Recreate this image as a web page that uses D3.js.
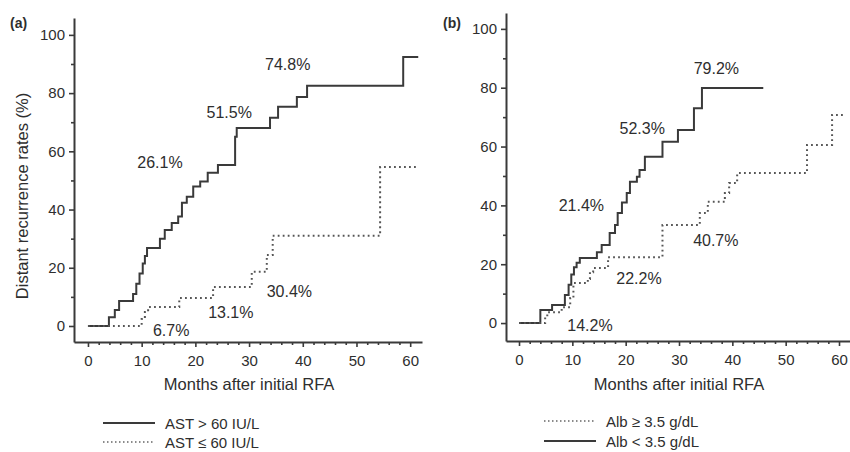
<!DOCTYPE html>
<html>
<head>
<meta charset="utf-8">
<script src="https://cdn.jsdelivr.net/npm/d3@7"></script>
<style>
  body { margin: 0; background: #fff; }
  svg text { font-family: "Liberation Sans", Arial, sans-serif; fill: #2e2e2e; }
</style>
</head>
<body>
<div id="viz"></div>
<script>
const width = 850;
const height = 452;
const ink = '#3a3a3a';

// panel (a): AST
const astHighMonths = [0, 3.9, 5.0, 5.8, 8.4, 9.0, 9.6, 10.2, 10.6, 11.0, 13.4, 14.3, 15.6, 16.8, 17.5, 18.4, 19.6, 20.9, 22.3, 24.2, 27.4, 27.7, 33.9, 35.4, 38.9, 40.8, 58.7, 61.5];
const astHighRates  = [0, 3, 5.5, 8.6, 11, 14.5, 18, 21.5, 24, 26.8, 30, 33, 35.4, 37.6, 42.3, 44.4, 47.9, 49.6, 52.6, 55.3, 65, 68, 71.5, 75.3, 78.7, 82.5, 92.4, 92.4];
const astLowMonths  = [0, 10.0, 10.6, 11.2, 17.0, 23.3, 30.5, 33.3, 34.4, 54.4, 61.5];
const astLowRates   = [0, 2.4, 4.8, 6.5, 9.6, 13.4, 18.6, 24.4, 31.0, 54.6, 54.6];

// panel (b): albumin
const albLowMonths  = [0, 4.0, 6.2, 8.6, 9.3, 9.8, 10.3, 10.8, 11.4, 14.6, 15.5, 17.0, 18.0, 18.5, 19.3, 20.2, 20.8, 22.1, 22.6, 23.6, 26.9, 29.8, 32.8, 34.3, 45.8];
const albLowRates   = [0, 4.4, 6.1, 9.5, 13, 16.5, 19, 20.5, 22.1, 24.1, 26.5, 30.6, 33.3, 37.4, 41.0, 44.2, 48, 49.7, 52, 56.5, 61.6, 65.6, 73, 79.9, 79.9];
const albHighMonths = [0, 4.9, 5.3, 8.0, 9.6, 10.2, 12.9, 13.3, 13.9, 16.7, 26.9, 33.9, 35.4, 38.6, 39.4, 40.9, 54.0, 58.7, 60.8];
const albHighRates  = [0, 2, 3.7, 5.4, 8.5, 13.6, 15, 17.3, 18.7, 22.4, 33.3, 37.4, 41.2, 44.2, 47.6, 51, 60.5, 70.7, 70.7];

// annotations: text, month, rate
const astNotes = [['26.1%', 13.4, 56], ['51.5%', 26.3, 73.5], ['74.8%', 37.2, 89.7],
                  ['6.7%', 15.5, -1.4], ['13.1%', 26.6, 4.5], ['30.4%', 37.5, 11.7]];
const albNotes = [['79.2%', 37.0, 86.7], ['52.3%', 23.1, 66.3], ['21.4%', 11.7, 40.1],
                  ['14.2%', 13.3, -0.7], ['22.2%', 22.5, 15.3], ['40.7%', 36.9, 27.9]];

const xTicks = [0, 10, 20, 30, 40, 50, 60];
const yTicks = [0, 20, 40, 60, 80, 100];

const svg = d3.select('#viz')
  .append('svg')
    .attr('width', width)
    .attr('height', height)
    .attr('viewBox', [0, 0, width, height]);

const zip = (m, r) => m.map((d, i) => [d, r[i]]);

function drawPanel(cfg) {
  const x = d3.scaleLinear().domain(cfg.xDomain).range(cfg.xRange);
  const y = d3.scaleLinear().domain(cfg.yDomain).range(cfg.yRange);
  const g = svg.append('g');

  // axes: major + minor ticks
  g.append('g')
    .attr('transform', `translate(0, ${cfg.yRange[0]})`)
    .call(d3.axisBottom(x).tickValues(xTicks).tickSize(5).tickSizeOuter(0).tickPadding(8));
  g.append('g')
    .attr('transform', `translate(0, ${cfg.yRange[0]})`)
    .call(d3.axisBottom(x).tickValues(d3.range(2, 62, 2).filter(v => v % 10)).tickSize(3).tickFormat(''))
    .call(a => a.select('.domain').remove());
  g.append('g')
    .attr('transform', `translate(${cfg.xRange[0]}, 0)`)
    .call(d3.axisLeft(y).tickValues(yTicks).tickSize(5).tickSizeOuter(0).tickPadding(4));
  g.append('g')
    .attr('transform', `translate(${cfg.xRange[0]}, 0)`)
    .call(d3.axisLeft(y).tickValues([10, 30, 50, 70, 90]).tickSize(3).tickFormat(''))
    .call(a => a.select('.domain').remove());

  g.selectAll('.domain, .tick line').attr('stroke', ink).attr('stroke-width', 1.6);
  g.selectAll('.domain').attr('stroke-width', 2);
  g.selectAll('.tick text').attr('font-size', 15).attr('fill', '#2e2e2e');

  const line = d3.line()
    .x(d => x(d[0]))
    .y(d => y(d[1]))
    .curve(d3.curveStepAfter);

  g.append('path')
    .attr('d', line(cfg.solid))
    .attr('fill', 'none')
    .attr('stroke', ink)
    .attr('stroke-width', 2);

  g.append('path')
    .attr('d', line(cfg.dotted))
    .attr('fill', 'none')
    .attr('stroke', '#555')
    .attr('stroke-width', 2)
    .attr('stroke-dasharray', '1.8,3.2');

  g.selectAll('.note')
    .data(cfg.notes)
    .join('text')
    .attr('class', 'note')
    .attr('x', d => x(d[1]))
    .attr('y', d => y(d[2]))
    .attr('text-anchor', 'middle')
    .attr('dominant-baseline', 'central')
    .attr('font-size', 16)
    .text(d => d[0]);

  g.append('text')
    .attr('x', cfg.tagX)
    .attr('y', 23)
    .attr('dominant-baseline', 'central')
    .attr('font-size', 14)
    .attr('font-weight', 'bold')
    .text(cfg.tag);

  g.append('text')
    .attr('x', (x(0) + x(60)) / 2)
    .attr('y', 384)
    .attr('text-anchor', 'middle')
    .attr('dominant-baseline', 'central')
    .attr('font-size', 16.5)
    .text('Months after initial RFA');

  // legend
  cfg.legend.forEach((item, i) => {
    const ly = cfg.legendY[i];
    g.append('line')
      .attr('x1', cfg.legendX).attr('x2', cfg.legendX + 52)
      .attr('y1', ly).attr('y2', ly)
      .attr('stroke', item.dotted ? '#666' : ink)
      .attr('stroke-width', item.dotted ? 1.6 : 2)
      .attr('stroke-dasharray', item.dotted ? '1.5,2.5' : null);
    g.append('text')
      .attr('x', cfg.legendX + 62)
      .attr('y', ly)
      .attr('dominant-baseline', 'central')
      .attr('font-size', 15)
      .text(item.label);
  });
  return g;
}

drawPanel({
  xDomain: [-2.6, 62.2], xRange: [74, 422],
  yDomain: [-5.5, 105.8], yRange: [342, 18],
  solid: zip(astHighMonths, astHighRates),
  dotted: zip(astLowMonths, astLowRates),
  notes: astNotes, tag: '(a)', tagX: 10,
  legendX: 103, legendY: [423, 442],
  legend: [{label: 'AST > 60 IU/L', dotted: false}, {label: 'AST \u2264 60 IU/L', dotted: true}]
});

drawPanel({
  xDomain: [-2.44, 62.06], xRange: [506, 850],
  yDomain: [-6.1, 105.4], yRange: [341, 13],
  solid: zip(albLowMonths, albLowRates),
  dotted: zip(albHighMonths, albHighRates),
  notes: albNotes, tag: '(b)', tagX: 443,
  legendX: 544, legendY: [421, 441],
  legend: [{label: 'Alb \u2265 3.5 g/dL', dotted: true}, {label: 'Alb < 3.5 g/dL', dotted: false}]
});

svg.append('text')
  .attr('transform', 'translate(22, 196) rotate(-90)')
  .attr('text-anchor', 'middle')
  .attr('dominant-baseline', 'central')
  .attr('font-size', 16.5)
  .text('Distant recurrence rates (%)');
</script>
</body>
</html>
